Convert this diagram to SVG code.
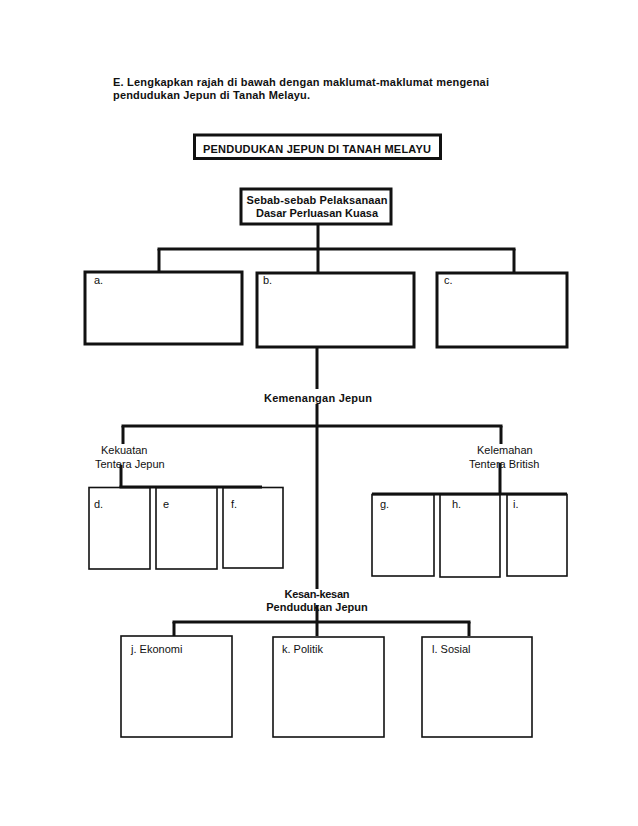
<svg xmlns="http://www.w3.org/2000/svg" width="638" height="826" viewBox="0 0 638 826">
<style>
.t{font-family:"Liberation Sans",Arial,sans-serif;font-size:11px;fill:#111}
.b{font-weight:bold}
.m{text-anchor:middle}
.thick{fill:none;stroke:#111;stroke-width:3}
.thin{fill:none;stroke:#111;stroke-width:1.6}
.c{stroke:#111;stroke-width:3;fill:none}
</style>
<rect width="638" height="826" fill="#fff"/>
<g id="instruction">
<text class="t b" x="113" y="86" textLength="376" lengthAdjust="spacing">E. Lengkapkan rajah di bawah dengan maklumat-maklumat mengenai</text>
<text class="t b" x="113" y="99" textLength="197" lengthAdjust="spacing">pendudukan Jepun di Tanah Melayu.</text>
</g>
<g id="title">
<rect class="thick" x="194.5" y="135" width="246" height="23.5"/>
<text class="t b" x="203" y="153" textLength="228" lengthAdjust="spacing">PENDUDUKAN JEPUN DI TANAH MELAYU</text>
</g>
<g id="connectors">
<line class="c" x1="318" y1="224" x2="318" y2="249"/>
<line class="c" x1="157.5" y1="249" x2="515.5" y2="249"/>
<line class="c" x1="159" y1="249" x2="159" y2="272"/>
<line class="c" x1="318" y1="249" x2="318" y2="273"/>
<line class="c" x1="514" y1="249" x2="514" y2="273"/>
<line class="c" x1="317" y1="347" x2="317" y2="389"/>
<line class="c" x1="317" y1="404" x2="317" y2="589"/>
<line class="c" x1="121.5" y1="426" x2="502.5" y2="426"/>
<line class="c" x1="123" y1="426" x2="123" y2="444"/>
<line class="c" x1="501" y1="426" x2="501" y2="444"/>
<line class="c" x1="121" y1="465" x2="121" y2="487"/>
<line class="c" x1="119.5" y1="487" x2="262" y2="487"/>
<line class="c" x1="500" y1="463" x2="500" y2="494"/>
<line class="c" x1="372" y1="494" x2="567" y2="494"/>
<line class="c" x1="317" y1="605" x2="317" y2="636"/>
<line class="c" x1="172.5" y1="622" x2="470.5" y2="622"/>
<line class="c" x1="174" y1="622" x2="174" y2="636"/>
<line class="c" x1="469" y1="622" x2="469" y2="636"/>
</g>
<g id="sebab">
<rect class="thick" x="241" y="189" width="150" height="35"/>
<text class="t b m" x="317" y="204" textLength="141" lengthAdjust="spacing">Sebab-sebab Pelaksanaan</text>
<text class="t b m" x="317" y="217" textLength="122" lengthAdjust="spacing">Dasar Perluasan Kuasa</text>
</g>
<g id="node-a"><rect class="thick" x="85" y="272" width="157" height="72"/><text class="t" x="94" y="284">a.</text></g>
<g id="node-b"><rect class="thick" x="257" y="273" width="157" height="74"/><text class="t" x="263" y="284">b.</text></g>
<g id="node-c"><rect class="thick" x="437" y="273" width="130" height="74"/><text class="t" x="444" y="284">c.</text></g>
<g id="kemenangan"><text class="t b m" x="318" y="402" textLength="108" lengthAdjust="spacing">Kemenangan Jepun</text></g>
<g id="kekuatan">
<text class="t" x="101" y="454">Kekuatan</text>
<text class="t" x="95" y="468">Tentera Jepun</text>
</g>
<g id="kelemahan">
<text class="t" x="477" y="454">Kelemahan</text>
<text class="t" x="469" y="468">Tentera British</text>
</g>
<g id="node-d"><rect class="thin" x="89" y="487.5" width="61" height="81.5"/><text class="t" x="94" y="508">d.</text></g>
<g id="node-e"><rect class="thin" x="156" y="487.5" width="61" height="81.5"/><text class="t" x="163" y="508">e</text></g>
<g id="node-f"><rect class="thin" x="223" y="487.5" width="60" height="80.5"/><text class="t" x="231" y="508">f.</text></g>
<g id="node-g"><rect class="thin" x="372" y="494.5" width="62" height="81.5"/><text class="t" x="380" y="508">g.</text></g>
<g id="node-h"><rect class="thin" x="440" y="494.5" width="60" height="82.5"/><text class="t" x="452" y="508">h.</text></g>
<g id="node-i"><rect class="thin" x="507" y="494.5" width="60" height="81.5"/><text class="t" x="513" y="508">i.</text></g>
<g id="kesan">
<text class="t b m" x="317" y="598" textLength="65" lengthAdjust="spacing">Kesan-kesan</text>
<text class="t b m" x="317" y="611">Pendudukan Jepun</text>
</g>
<g id="node-j"><rect class="thin" x="121" y="636" width="111" height="101"/><text class="t" x="131" y="653">j. Ekonomi</text></g>
<g id="node-k"><rect class="thin" x="273" y="637" width="111" height="100"/><text class="t" x="282" y="653">k. Politik</text></g>
<g id="node-l"><rect class="thin" x="422" y="637" width="110" height="100"/><text class="t" x="432" y="653">l. Sosial</text></g>
</svg>
